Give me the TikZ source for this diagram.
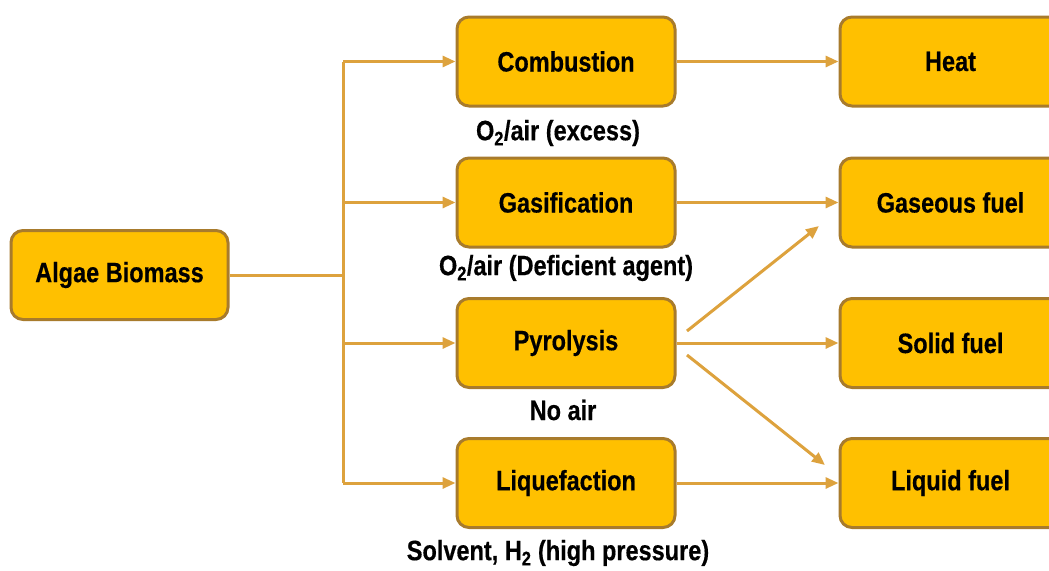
\documentclass[tikz,border=0pt]{standalone}
\usepackage{fontspec}
\setmainfont[FakeStretch=0.84,BoldFeatures={FakeBold=0.4}]{Liberation Sans}
\usetikzlibrary{arrows.meta}
\definecolor{boxfill}{HTML}{FFC000}
\definecolor{boxline}{HTML}{A87B2C}
\definecolor{arrowc}{HTML}{DDA23D}
\tikzset{
  procbox/.style={draw=boxline, line width=3pt, fill=boxfill, rounded corners=12pt,
    minimum width=218pt, minimum height=89pt, inner sep=0pt,
    font=\fontsize{28}{32}\selectfont\bfseries},
  lab/.style={font=\fontsize{28}{32}\selectfont\bfseries, inner sep=0pt},
  conn/.style={draw=arrowc, line width=3pt},
  arr/.style={conn, -{Triangle[length=13pt,width=11pt]}}
}
\begin{document}
\begin{tikzpicture}[x=1pt,y=-1pt]
\useasboundingbox (0,0) rectangle (1049,570);
\begin{scope}
\clip (0,0) rectangle (1049,570);
\node[procbox, minimum width=217pt] (algae) at (119.5,275) {Algae Biomass};
\node[procbox] (comb) at (566,61.5) {Combustion};
\node[procbox] (gas) at (566,202.5) {Gasification};
\node[procbox] (pyro) at (566,343) {Pyrolysis};
\node[procbox] (liq) at (566,483) {Liquefaction};
\node[procbox, minimum width=224pt] (heat) at (952,61.5) {\hspace*{-3pt}Heat};
\node[procbox, minimum width=224pt] (gfuel) at (952,202.5) {\hspace*{-3pt}Gaseous fuel};
\node[procbox, minimum width=224pt] (sfuel) at (952,343) {\hspace*{-3pt}Solid fuel};
\node[procbox, minimum width=224pt] (lfuel) at (952,483) {\hspace*{-3pt}Liquid fuel};
\end{scope}
\node[lab] (l1) at (558,133) {O\textsubscript{2}/air (excess)};
\node[lab] (l2) at (566,268) {O\textsubscript{2}/air (Deficient agent)};
\node[lab] (l3) at (563,410) {No air};
\node[lab] (l4) at (558,553) {Solvent, H\textsubscript{2} (high pressure)};
\coordinate (trunk) at (343,275);
\coordinate (ttop) at (343,61.5);
\coordinate (tbot) at (343,483);
\coordinate (d1s) at (687,331);
\coordinate (d1e) at (819,226);
\coordinate (d2s) at (687,355);
\coordinate (d2e) at (825,465);
\draw[conn] (algae.east) -- (trunk);
\draw[conn] (ttop) -- (tbot);
\draw[arr] (ttop) -- (comb.west);
\draw[arr] (343,202.5) -- (gas.west);
\draw[arr] (343,343) -- (pyro.west);
\draw[arr] (tbot) -- (liq.west);
\draw[arr] (comb.east) -- (heat.west);
\draw[arr] (gas.east) -- (gfuel.west);
\draw[arr] (pyro.east) -- (sfuel.west);
\draw[arr] (liq.east) -- (lfuel.west);
\draw[arr] (d1s) -- (d1e);
\draw[arr] (d2s) -- (d2e);
\end{tikzpicture}
\end{document}
